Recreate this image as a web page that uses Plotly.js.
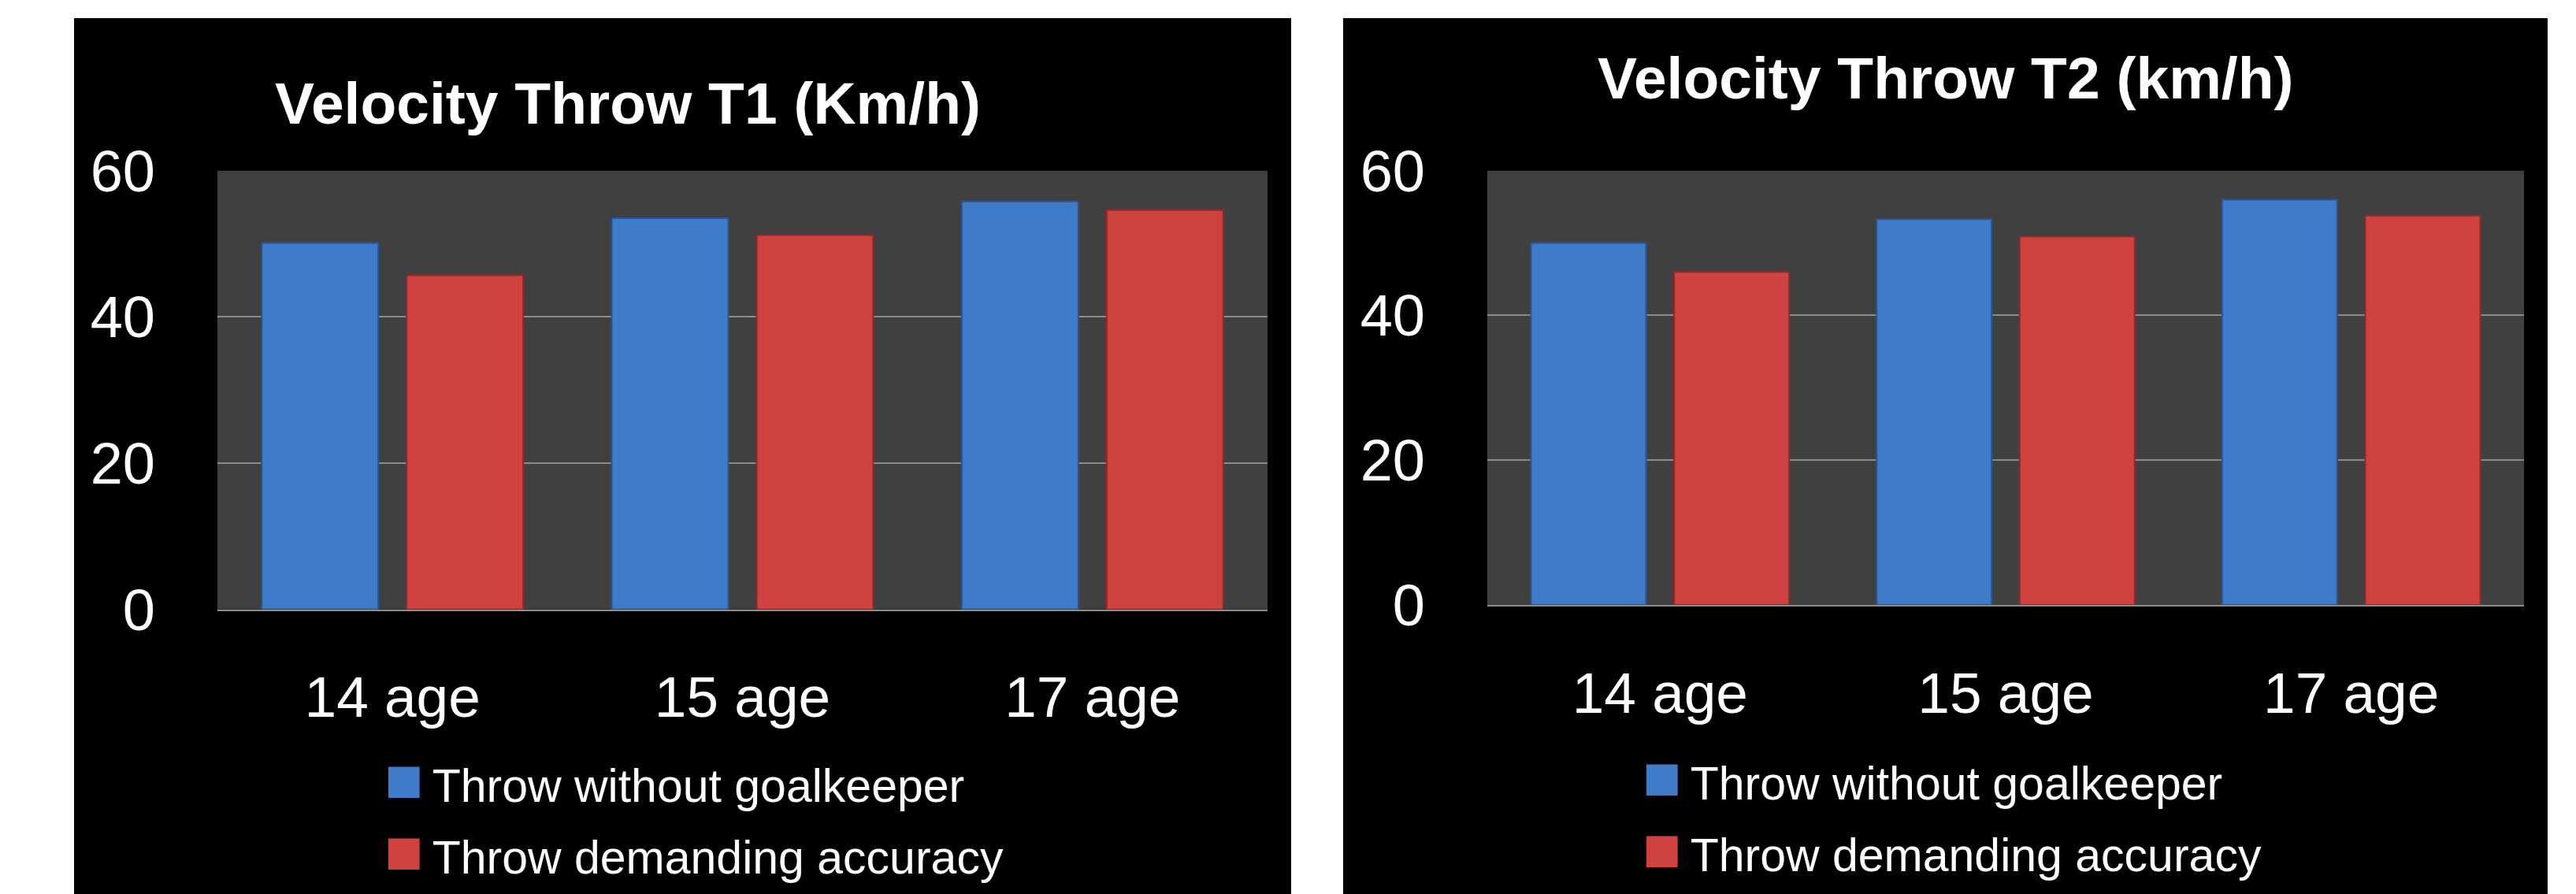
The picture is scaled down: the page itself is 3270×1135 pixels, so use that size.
<!DOCTYPE html>
<html>
<head>
<meta charset="utf-8">
<script src="https://cdn.plot.ly/plotly-3.0.1.min.js"></script>
<style>
  html, body { margin: 0; padding: 0; background: #ffffff; }
  #chart { width: 3270px; height: 1135px; }
</style>
</head>
<body>
<div id="chart"></div>
<script>
// Age groups on the category axis
const ageGroups = ['14 age', '15 age', '17 age'];

// Series names
const seriesNames = ['Throw without goalkeeper', 'Throw demanding accuracy'];

// Throw velocity, test T1 (km/h)
const t1NoKeeper = [50.1, 53.5, 55.8];
const t1Accuracy = [45.7, 51.2, 54.6];

// Throw velocity, test T2 (km/h)
const t2NoKeeper = [50.0, 53.3, 56.0];
const t2Accuracy = [46.0, 50.9, 53.8];

// Value axis ticks
const yTicks = [0, 20, 40, 60];

// Panel titles
const panelTitles = ['Velocity Throw T1 (Km/h)', 'Velocity Throw T2 (km/h)'];

const W = 3270, H = 1135;
const BLUE = '#3e7bc9';
const RED = '#cf423f';
const FONT = 'Liberation Sans, Arial, sans-serif';

const px = v => v / W;          // horizontal pixel -> paper
const py = v => 1 - v / H;      // vertical pixel (from top) -> paper

function barTrace(y, name, color, lineColor, xa, ya) {
  return {
    type: 'bar',
    x: ageGroups,
    y: y,
    name: name,
    xaxis: xa,
    yaxis: ya,
    showlegend: false,
    marker: { color: color, line: { color: lineColor, width: 2 } },
    hoverinfo: 'x+y+name'
  };
}

const data = [
  barTrace(t1NoKeeper, seriesNames[0], BLUE, '#2b5590', 'x', 'y'),
  barTrace(t1Accuracy, seriesNames[1], RED, '#8f2a28', 'x', 'y'),
  barTrace(t2NoKeeper, seriesNames[0], BLUE, '#2b5590', 'x2', 'y2'),
  barTrace(t2Accuracy, seriesNames[1], RED, '#8f2a28', 'x2', 'y2')
];

const xAxisBase = {
  type: 'category',
  showgrid: false,
  zeroline: false,
  showline: true,
  linecolor: '#8c8c8c',
  linewidth: 2,
  ticks: '',
  ticklabelstandoff: 47,
  tickfont: { family: FONT, size: 73, color: '#ffffff' },
  automargin: false,
  fixedrange: true
};

const yAxisBase = {
  range: [0, 60],
  tickvals: yTicks,
  ticktext: yTicks.map(String),
  showgrid: true,
  gridcolor: '#8c8c8c',
  gridwidth: 2,
  zeroline: false,
  showline: false,
  ticks: '',
  ticklabelstandoff: 78,
  tickfont: { family: FONT, size: 74, color: '#ffffff' },
  automargin: false,
  fixedrange: true
};

// Legend entry: coloured square swatch followed by the series name
function legendLine(color, name, x, y) {
  return {
    xref: 'paper', yref: 'paper',
    x: x, y: y,
    xanchor: 'left', yanchor: 'middle',
    showarrow: false,
    align: 'left',
    text: '<span style="color:' + color + ';font-size:82px">\u25A0</span>' +
          '<span style="font-size:40px"> </span>' + name,
    font: { family: FONT, size: 59, color: '#ffffff' }
  };
}

const layout = {
  width: W,
  height: H,
  margin: { l: 0, r: 0, t: 0, b: 0, pad: 0 },
  paper_bgcolor: '#ffffff',
  plot_bgcolor: 'rgba(0,0,0,0)',
  barmode: 'group',
  bargap: 0.172,
  bargroupgap: 0.196,
  showlegend: false,
  xaxis: Object.assign({}, xAxisBase, { domain: [px(276), px(1609)], anchor: 'y' }),
  yaxis: Object.assign({}, yAxisBase, { domain: [py(773.7), py(216.7)], anchor: 'x' }),
  xaxis2: Object.assign({}, xAxisBase, { domain: [px(1888), px(3204)], anchor: 'y2' }),
  yaxis2: Object.assign({}, yAxisBase, { domain: [py(768), py(216.7)], anchor: 'x2' }),
  shapes: [
    // black chart panels
    { type: 'rect', xref: 'paper', yref: 'paper', layer: 'below',
      x0: px(94), x1: px(1639), y0: 0, y1: py(23),
      fillcolor: '#000000', line: { width: 0 } },
    { type: 'rect', xref: 'paper', yref: 'paper', layer: 'below',
      x0: px(1705), x1: px(3234), y0: 0, y1: py(23),
      fillcolor: '#000000', line: { width: 0 } },
    // dark grey plot areas
    { type: 'rect', xref: 'x domain', yref: 'y domain', layer: 'below',
      x0: 0, x1: 1, y0: 0, y1: 1, fillcolor: '#404040', line: { width: 0 } },
    { type: 'rect', xref: 'x2 domain', yref: 'y2 domain', layer: 'below',
      x0: 0, x1: 1, y0: 0, y1: 1, fillcolor: '#404040', line: { width: 0 } }
  ],
  annotations: [
    {
      xref: 'paper', yref: 'paper', x: px(797), y: py(131),
      xanchor: 'center', yanchor: 'middle', showarrow: false,
      text: panelTitles[0],
      font: { family: FONT, size: 75, color: '#ffffff', weight: 'bold' }
    },
    {
      xref: 'paper', yref: 'paper', x: px(2469), y: py(99),
      xanchor: 'center', yanchor: 'middle', showarrow: false,
      text: panelTitles[1],
      font: { family: FONT, size: 75, color: '#ffffff', weight: 'bold' }
    },
    legendLine(BLUE, seriesNames[0], px(486), py(989)),
    legendLine(RED, seriesNames[1], px(486), py(1080)),
    legendLine(BLUE, seriesNames[0], px(2083), py(986)),
    legendLine(RED, seriesNames[1], px(2083), py(1077))
  ]
};

Plotly.newPlot('chart', data, layout, { staticPlot: true, displayModeBar: false });
</script>
</body>
</html>
